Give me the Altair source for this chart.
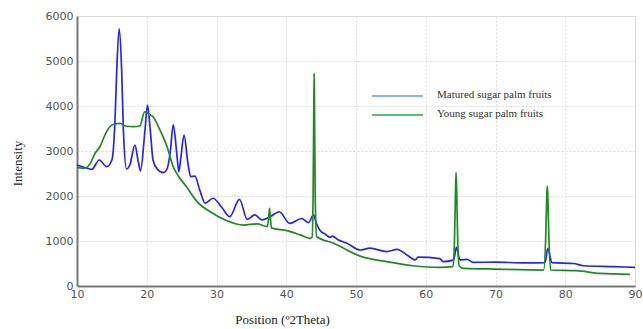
import altair as alt
import pandas as pd

series_names = ["Matured sugar palm fruits", "Young sugar palm fruits"]

# Matured (blue) pattern
matured_x = [10.0, 11.0, 12.1, 13.2, 14.25, 15.0, 15.45, 15.7, 16.05, 16.4, 16.65, 17.1, 17.6, 18.3, 18.8, 19.1, 19.75, 20.1, 20.5, 20.9,
             21.5, 22.4, 22.9, 23.35, 23.8, 24.3, 24.6, 24.85, 25.35, 25.9, 26.3, 26.9, 27.6, 28.4, 29.5, 30.7, 31.9, 33.3,
             34.4, 35.5, 36.5, 37.7, 39.0, 40.5, 42.2, 43.2, 43.9, 44.3, 44.8, 45.6, 46.3, 46.6, 47.5, 48.7, 50.6, 52.0, 54.4,
             55.9, 57.3, 58.5, 58.9, 62.0, 62.5, 64.0, 64.4, 64.9, 65.9, 66.8, 70.0, 74.0, 77.1, 77.5, 78.1, 81.2, 82.6,
             86.9, 90.0]
matured_y = [2690, 2640, 2590, 2800, 2650, 2800, 3690, 4800, 5720, 4800, 3470, 2600, 2700, 3130, 2750, 2560, 3470, 4020, 3470, 2800,
             2600, 2520, 2600, 2950, 3580, 2950, 2540, 2800, 3355, 2725, 2430, 2440, 2130, 1840, 1950, 1760, 1540, 1925,
             1480, 1580, 1470, 1540, 1650, 1390, 1500, 1410, 1580, 1400, 1245, 1150, 1080, 1110, 1020, 950, 800, 840, 765,
             815, 690, 580, 640, 610, 540, 580, 860, 580, 590, 525, 530, 515, 520, 835, 520, 500, 450,
             430, 415]

# Young (green) pattern
young_x = [10.0, 11.1, 11.9, 12.6, 13.3, 14.0, 14.7, 15.4, 16.2, 16.9, 18.1, 19.0, 19.7, 20.2, 20.9, 21.9, 22.9, 23.8, 24.5,
           25.7, 27.2, 29.1, 31.5, 33.8, 35.8, 37.3, 37.5, 37.6, 37.7, 37.9, 40.1, 42.0, 43.4, 43.7, 43.85, 43.95, 44.0,
           44.05, 44.15, 44.35, 46.8, 50.6, 54.4, 58.2, 62.0, 63.9, 64.1, 64.25, 64.35, 64.45, 64.6, 64.8, 65.4, 68.7,
           76.9, 77.2, 77.35, 77.42, 77.5, 77.65, 77.9, 81.6, 85.0, 89.3]
young_y = [2635, 2615, 2725, 2950, 3100, 3355, 3540, 3600, 3615, 3555, 3540, 3555, 3870, 3835, 3760, 3465, 3100, 2650, 2450,
           2205, 1875, 1650, 1450, 1355, 1380, 1320, 1550, 1725, 1550, 1285, 1230, 1135, 1060, 1080, 2000, 4000, 4725,
           4000, 2000, 1100, 950, 665, 540, 450, 415, 430, 900, 2000, 2520, 2000, 900, 445, 390, 380,
           355, 1100, 2000, 2220, 2000, 1100, 355, 340, 280, 260]

x_ticks = [10, 20, 30, 40, 50, 60, 70, 80, 90]
y_ticks = [0, 1000, 2000, 3000, 4000, 5000, 6000]

line_colors = ["#2424f5", "#1f8a1f"]
legend_colors = ["#5aa0e0", "#22a845"]

df = pd.concat([
    pd.DataFrame({"pos": matured_x, "intensity": matured_y, "series": series_names[0], "order": range(len(matured_x))}),
    pd.DataFrame({"pos": young_x, "intensity": young_y, "series": series_names[1], "order": range(len(young_x))}),
])

x_enc = alt.X("pos:Q", scale=alt.Scale(domain=[10, 90], nice=False),
              axis=alt.Axis(values=x_ticks, title="Position (º2Theta)", titleFont="Liberation Serif",
                            titleFontSize=13, titleFontWeight="normal", titleColor="#222",
                            titleX=205, titleY=27, titleAlign="center", labelFlush=False,
                            labelFont="DejaVu Sans", labelFontSize=11, labelColor="#555",
                            labelPadding=2, tickSize=0, domainColor="#777", domainWidth=2,
                            gridDash=[2, 2], gridColor="#d8d8d8", gridWidth=1))
y_enc = alt.Y("intensity:Q", scale=alt.Scale(domain=[0, 6000], nice=False),
              axis=alt.Axis(values=y_ticks, format="d", title="Intensity", titleFont="Liberation Serif",
                            titleFontSize=13, titleFontWeight="normal", titleColor="#222",
                            titleX=-60, titleY=147, titleAngle=270, titleAlign="center",
                            titleBaseline="middle", labelFlush=False,
                            labelFont="DejaVu Sans", labelFontSize=11, labelColor="#555",
                            labelPadding=4, tickSize=0, domainColor="#777", domainWidth=2,
                            gridDash=[2, 2], gridColor="#d8d8d8", gridWidth=1))

lines = alt.Chart(df).mark_line(strokeWidth=1.7, interpolate="monotone").encode(
    x=x_enc, y=y_enc,
    color=alt.Color("series:N", scale=alt.Scale(domain=series_names, range=line_colors), legend=None),
    order="order:Q",
)

legend_layers = []
for i, name in enumerate(series_names):
    ly = 80 + i * 19
    legend_layers.append(
        alt.Chart(pd.DataFrame({"series": [name]})).mark_rule(strokeWidth=1.5, color=legend_colors[i]).encode(
            x=alt.value(295), x2=alt.value(346), y=alt.value(ly)
        )
    )
    legend_layers.append(
        alt.Chart(pd.DataFrame({"series": [name]})).mark_text(
            align="left", baseline="middle", font="Liberation Serif", fontSize=11, color="#333"
        ).encode(x=alt.value(360), y=alt.value(ly - 1), text="series:N")
    )

chart = alt.layer(lines, *legend_layers).properties(
    width=558, height=270,
    padding={"left": 77, "top": 16, "right": 8, "bottom": 43},
    autosize=alt.AutoSizeParams(type="none"),
).configure_view(stroke=None).configure(background="white")

chart.save("out.html", embed_options={"renderer": "svg", "actions": False})
